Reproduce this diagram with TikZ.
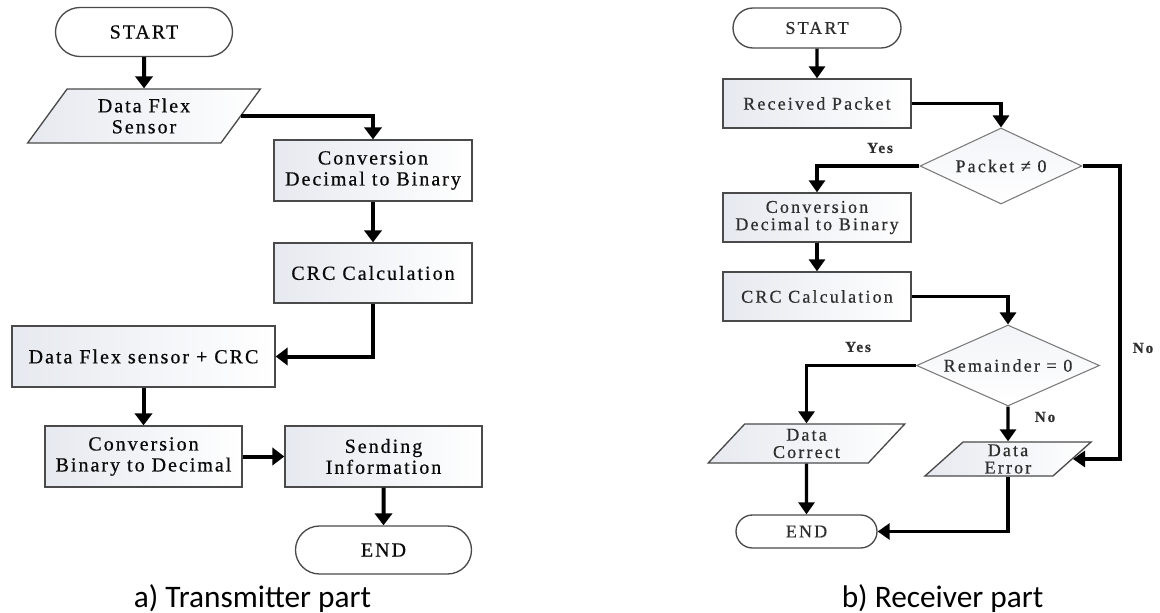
\documentclass[tikz,border=0pt]{standalone}
\usepackage{fontspec}
\setmainfont{Liberation Serif}
\newfontfamily\capfont{Carlito}
\newfontfamily\boxfont[LetterSpace=10,FakeBold=0.6]{Liberation Serif}
\newfontfamily\boxfontB[LetterSpace=12,FakeBold=0.6]{Liberation Serif}
\usetikzlibrary{shapes.geometric,shapes.misc,arrows.meta}
\definecolor{edge}{HTML}{4A4A4A}
\definecolor{edgelight}{HTML}{7A7A7A}
\definecolor{boxfill}{HTML}{E6E9EF}
\definecolor{ink}{HTML}{0A0A0A}
\definecolor{inklight}{HTML}{2E2E2E}
\tikzset{
  proc/.style={rectangle, draw=edge, line width=1pt, left color=boxfill, right color=white, align=center, inner sep=0pt},
  term/.style={rounded rectangle, draw=edge, line width=1pt, fill=white, inner sep=0pt},
  io/.style={trapezium, trapezium left angle=56, trapezium right angle=124, trapezium stretches=true,
    draw=edge, line width=1pt, left color=boxfill, right color=white, align=center, inner sep=0pt},
  decide/.style={diamond, draw=edgelight, line width=0.8pt, top color=boxfill!50, bottom color=white, align=center, inner sep=0pt},
  flowA/.style={draw=black, line width=3pt, -{Triangle[width=13pt,length=9pt]}},
  flowB/.style={draw=black, line width=2.5pt, -{Triangle[width=12pt,length=9pt]}},
  labA/.style={font=\boxfont\fontsize{15}{15.75}\selectfont, text=ink},
  labB/.style={font=\boxfontB\fontsize{13.5}{13}\selectfont, text=inklight},
  yn/.style={font=\boxfontB\bfseries\fontsize{11.5}{12}\selectfont, text=inklight},
  caption/.style={font=\capfont\fontsize{23.5}{24}\selectfont, anchor=base}
}

\begin{document}
\begin{tikzpicture}[x=0.75pt, y=-0.75pt]
  \useasboundingbox (0,0) rectangle (1160,613);

  % a) transmitter
  \node[term, labA, minimum width=132.75pt, minimum height=36.75pt] (startA) at (144,32) {START};
  \node[io, labA, minimum width=174.75pt, minimum height=40.5pt] (sensA) at (144,116) {Data Flex\\Sensor};
  \node[proc, labA, minimum width=148.5pt, minimum height=45.75pt] (convA) at (373,170.5) {Conversion\\Decimal to Binary};
  \node[proc, labA, minimum width=148.5pt, minimum height=45pt] (crcA) at (373,273) {CRC Calculation};
  \node[proc, labA, minimum width=197.25pt, minimum height=45.75pt] (mixA) at (143.5,356.5) {Data Flex sensor + CRC};
  \node[proc, labA, minimum width=147.75pt, minimum height=45.75pt] (backA) at (143.5,456.5) {Conversion\\Binary to Decimal};
  \node[proc, labA, minimum width=147.75pt, minimum height=45.75pt] (sendA) at (383.5,456.5) {Sending\\Information};
  \node[term, labA, minimum width=132pt, minimum height=36pt] (endA) at (383.5,550) {END};

  \draw[flowA] (startA) -- (sensA);
  \draw[flowA] (sensA.east) -| (convA.north);
  \draw[flowA] (convA) -- (crcA);
  \draw[flowA] (crcA.south) |- (mixA.east);
  \draw[flowA] (mixA) -- (backA);
  \draw[flowA] (backA) -- (sendA);
  \draw[flowA] (sendA) -- (endA);

  % b) receiver
  \node[term, labB, minimum width=126pt, minimum height=30pt] (startB) at (817,28) {START};
  \node[proc, labB, minimum width=141pt, minimum height=36.75pt] (recvB) at (817,103.5) {Received Packet};
  \node[decide, labB, aspect=2.13, minimum width=121.5pt, minimum height=57pt] (chkB) at (1001,166) {Packet ≠ 0};
  \node[proc, labB, minimum width=141pt, minimum height=36.75pt] (convB) at (817,217.5) {Conversion\\Decimal to Binary};
  \node[proc, labB, minimum width=141pt, minimum height=36.75pt] (crcB) at (817,296.5) {CRC Calculation};
  \node[decide, labB, aspect=2.26, minimum width=137.25pt, minimum height=60.75pt] (remB) at (1008,365.5) {Remainder = 0};
  \node[io, labB, minimum width=147.75pt, minimum height=29.25pt] (okB) at (806.5,443.5) {Data\\Correct};
  \node[io, labB, minimum width=125.25pt, minimum height=25.5pt] (errB) at (1008,459) {Data\\Error};
  \node[term, labB, minimum width=105.75pt, minimum height=24.75pt] (endB) at (806.5,531.5) {END};
  \coordinate (noB) at (1120,166);

  \draw[flowB] (startB) -- (recvB);
  \draw[flowB] (recvB.east) -| (chkB.north);
  \draw[flowB] (chkB.west) -| (convB.north);
  \draw[flowB] (convB) -- (crcB);
  \draw[flowB] (crcB.east) -| (remB.north);
  \draw[flowB] (remB.west) -| (okB.north);
  \draw[flowB] (remB) -- (errB);
  \draw[flowB] (chkB.east) -- (noB) |- (errB.east);
  \draw[flowB] (okB) -- (endB);
  \draw[flowB] (errB.south) |- (endB.east);

  \node[yn] (yesB1) at (880,148) {Yes};
  \node[yn] (yesB2) at (858,347) {Yes};
  \node[yn] (noB2) at (1045,417) {No};
  \node[yn] (noB1) at (1143,348) {No};

  % captions
  \node[caption] (capA) at (252.5,607) {a) Transmitter part};
  \node[caption] (capB) at (942.5,607) {b) Receiver part};
\end{tikzpicture}
\end{document}
